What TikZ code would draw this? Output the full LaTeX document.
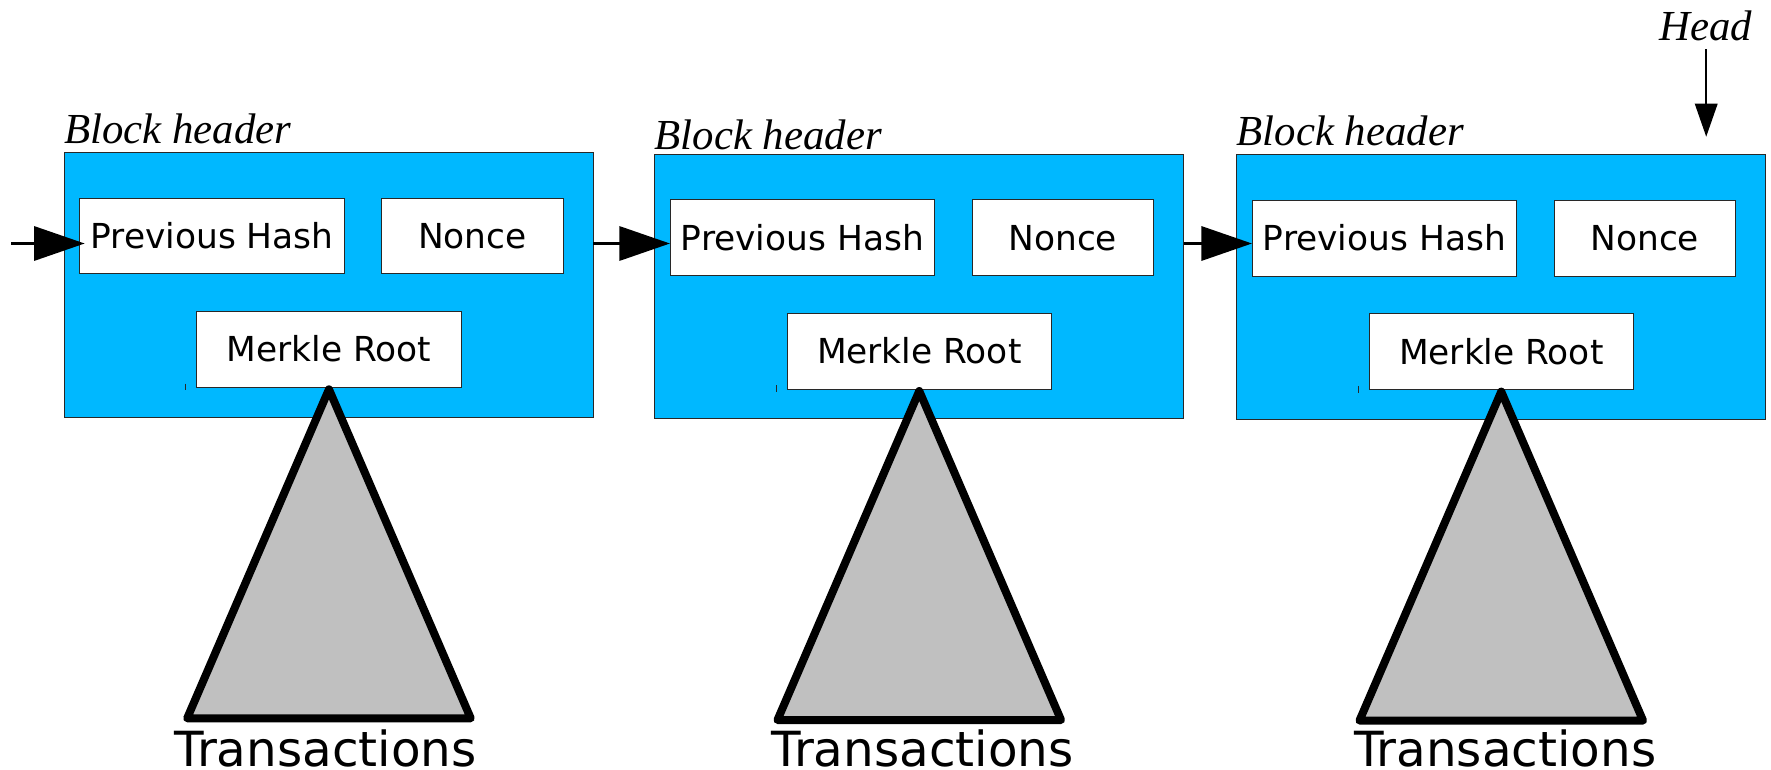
\documentclass[tikz,border=0pt]{standalone}
\usepackage{fontspec}
\setmainfont{Liberation Serif}
\newfontfamily\boxfont{DejaVu Sans}
\usetikzlibrary{arrows.meta}
\definecolor{blockblue}{RGB}{0,184,255}
\definecolor{treegray}{RGB}{192,192,192}
\definecolor{edgegray}{RGB}{40,40,40}

\begin{document}
\begin{tikzpicture}[x=1pt,y=-1pt,
  blockbox/.style={draw=edgegray, line width=1pt, fill=blockblue,
    minimum width=529pt, minimum height=264.5pt, inner sep=0pt, outer sep=0pt,
    anchor=north west},
  cell/.style={draw=edgegray, line width=1pt, fill=white, minimum height=75.5pt,
    inner sep=0pt, outer sep=0pt, anchor=north west,
    font=\boxfont\fontsize{34.4}{41}\selectfont, text height=25pt, text depth=0pt},
  hdr/.style={font=\itshape\fontsize{42.8}{50}\selectfont, inner sep=0pt, anchor=base west},
  txlabel/.style={font=\boxfont\fontsize{48.4}{58}\selectfont, inner sep=0pt, anchor=base},
  tree/.style={draw=black, line width=8pt, line join=round, fill=treegray},
  chain/.style={line width=3.3pt, -{Triangle[length=50.6pt,width=34pt]}},
  headptr/.style={line width=1.5pt, -{Triangle[length=33pt,width=22.6pt]}},
  tick/.style={draw=edgegray, line width=1pt}
]
\useasboundingbox (0,0) rectangle (1771,770);

% three block headers with their fields, Merkle trees and labels
\foreach \i/\L/\T/\hb/\tx in {1/64.4/152.7/-9.4/-3.3, 2/654.7/154.4/-5.3/3.4, 3/1236.7/155/-9.3/4}{
  \node[blockbox] (blk\i) at (\L,\T) {};
  \node[hdr] (hd\i) at (\L-0.2,\T+\hb) {Block header};
  \node[cell, minimum width=264.7pt] (ph\i) at (\L+15.3,\T+45.6) {Previous Hash};
  \node[cell, minimum width=181.5pt] (nc\i) at (\L+317.3,\T+45.6) {Nonce};
  \node[cell, minimum width=264.5pt, minimum height=76pt] (mr\i) at (\L+132.3,\T+158.6) {Merkle Root};
  \draw[tick] ([shift={(-10.8,-3.7)}]mr\i.south west) -- ++(0,6.7);
  \draw[tree] ([yshift=-2pt]mr\i.south) -- ++(-141.8,329) -- ++(283.6,0) -- cycle;
  \node[txlabel] (tx\i) at (\L+264.5+\tx,766) {Transactions};
}

% hash pointers linking the chain
\coordinate (chainin) at (11,243.5);
\draw[chain] (chainin) -- ([xshift=5pt]ph1.west |- chainin);
\draw[chain] (blk1.east |- chainin) -- (ph2.west |- chainin);
\draw[chain] (blk2.east |- chainin) -- (ph3.west |- chainin);

% head pointer
\node[hdr] (head) at (1659,40.7) {Head};
\coordinate (headtail) at (1706.2,49.3);
\coordinate (headtip) at (1706.2,136.7);
\draw[headptr] (headtail) -- (headtip);
\end{tikzpicture}
\end{document}
